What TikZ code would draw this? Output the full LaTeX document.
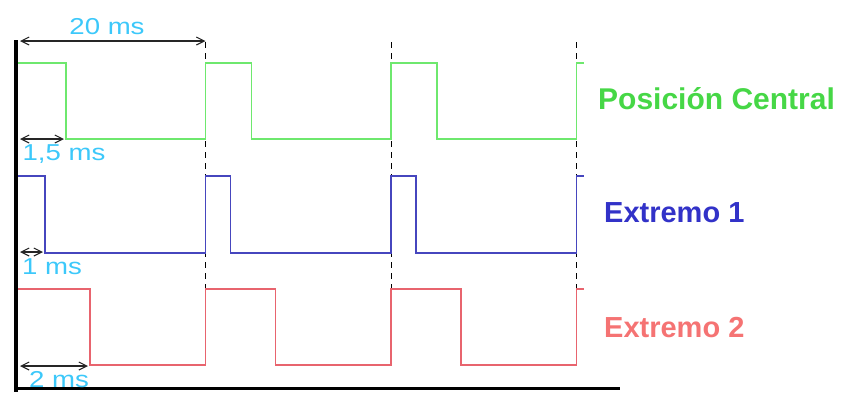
\documentclass[tikz,border=0pt]{standalone}
\usepackage{fontspec}
\setmainfont{Liberation Sans}
\newfontfamily\msfont[FakeStretch=1.2]{Liberation Sans}
\usepackage{tikz}
\usetikzlibrary{arrows.meta}
\tikzset{>={Straight Barb[length=8pt,width=8pt]}}

\definecolor{sigGreen}{RGB}{110,232,110}
\definecolor{txtGreen}{RGB}{70,215,70}
\definecolor{sigBlue}{RGB}{70,70,190}
\definecolor{txtBlue}{RGB}{50,50,200}
\definecolor{sigRed}{RGB}{232,100,110}
\definecolor{txtRed}{RGB}{245,115,115}
\definecolor{msBlue}{RGB}{60,200,250}

% one servo pulse train: colour, high level, low level, pulse width
\newcommand{\servotrain}[4]{%
  \draw[sig,#1] (18,#2) -| ({20+#4},#3) -| (205.5,#2) -| ({205.5+#4},#3)
    -| (391,#2) -| ({391+#4},#3) -| (576.5,#2) -- (584,#2);}

\begin{document}
\begin{tikzpicture}[x=1pt,y=-1pt,
    sig/.style={line width=1.8pt},
    dim/.style={<->,line width=1.1pt,black!85},
    mslabel/.style={text=msBlue,font=\msfont\fontsize{23}{23}\selectfont,inner sep=0pt},
    lanelabel/.style={font=\bfseries\fontsize{29}{29}\selectfont,inner sep=0pt,anchor=west}]
  \useasboundingbox (0,0) rectangle (843,392);

  % axes
  \draw[line width=4pt] (16,40) -- (16,392);
  \draw[line width=3pt] (14,388) -- (620,388);

  % period markers
  \foreach \x in {205.5,391,576.5}
    \draw[line width=1pt,dash pattern=on 6pt off 5pt] (\x,42) -- (\x,290);

  % signals
  \servotrain{sigGreen}{63}{139}{46}
  \servotrain{sigBlue}{176}{253}{25}
  \servotrain{sigRed}{289}{365}{70}

  % times
  \coordinate (p0) at (20,41);
  \coordinate (p1) at (205.5,41);
  \draw[dim] (p0) -- (p1);
  \node[mslabel] (per) at (107,27) {20 ms};

  \coordinate (g0) at (20,139);
  \coordinate (g1) at (64,139);
  \draw[dim] (g0) -- (g1);
  \node[mslabel] (tg) at (64,154) {1,5 ms};

  \coordinate (b0) at (20,252);
  \coordinate (b1) at (43,252);
  \draw[dim] (b0) -- (b1);
  \node[mslabel] (tb) at (52,267) {1 ms};

  \coordinate (r0) at (20,366);
  \coordinate (r1) at (88,366);
  \draw[dim] (r0) -- (r1);
  \node[mslabel] (tr) at (59,380) {2 ms};

  % lane names
  \node[lanelabel,text=txtGreen,font=\bfseries\fontsize{30}{30}\selectfont] (central) at (598,99) {Posición Central};
  \node[lanelabel,text=txtBlue] (ext1) at (604,213) {Extremo 1};
  \node[lanelabel,text=txtRed] (ext2) at (604,328) {Extremo 2};
\end{tikzpicture}
\end{document}
